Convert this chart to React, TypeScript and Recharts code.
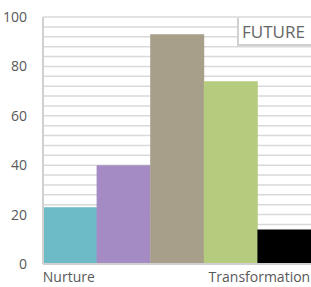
import React from 'react'
import { BarChart, Bar, XAxis, YAxis, CartesianGrid, Cell } from 'recharts'

const stages = ['s1', 's2', 's3', 's4', 's5']
const stageLabels = ['Nurture', '', '', '', 'Transformation']
const values = [23, 40, 93, 74, 14]
const colors = ['#6dbbc7', '#a48bc3', '#a89f8a', '#b5cc7e', '#000000']
const yTicks = Array.from({ length: 26 }, (_, i) => i * 4)
const yLabelTicks = [0, 20, 40, 60, 80, 100]

const data = stages.map((s, i) => ({ stage: s, value: values[i] }))

const font = '"Open Sans", "Noto Sans", sans-serif'

const YTick = ({ x, y, payload }: any) => {
  if (!yLabelTicks.includes(payload.value)) return null
  return (
    <text x={x - 8} y={y + 5} textAnchor="end" fill="#595959" fontSize={14} fontFamily={font}>
      {payload.value}
    </text>
  )
}

const XTick = ({ x, y, payload, index }: any) => {
  const label = stageLabels[index]
  if (!label) return null
  const first = index === 0
  return (
    <text x={first ? x - 27 : x + 26} y={y + 10} textAnchor={first ? 'start' : 'end'} fill="#595959" fontSize={14} fontFamily={font}>
      {label}
    </text>
  )
}

export default function App() {
  return (
    <div style={{ position: 'absolute', left: 0, top: 0, width: 311, height: 287, background: '#fff' }}>
      <BarChart width={311} height={287} data={data} barCategoryGap={0} margin={{ top: 17, right: 0, bottom: 0, left: 0 }}>
        <CartesianGrid vertical={false} stroke="#d9d9d9" strokeWidth={1.5} />
        <XAxis dataKey="stage" height={23} axisLine={{ stroke: '#d0d0d0', strokeWidth: 2 }} tickLine={false} tick={<XTick />} interval={0} />
        <YAxis domain={[0, 100]} ticks={yTicks} interval={0} width={43} axisLine={{ stroke: '#d0d0d0', strokeWidth: 2 }} tickLine={false} tick={<YTick />} />
        <Bar dataKey="value" isAnimationActive={false}>
          {data.map((d, i) => (
            <Cell key={d.stage} fill={colors[i]} />
          ))}
        </Bar>
      </BarChart>
      <div style={{ position: 'absolute', left: 237, top: 18, width: 74, height: 28, background: '#fff', borderLeft: '2px solid #d0d0d0', borderBottom: '2px solid #d0d0d0', boxSizing: 'border-box', color: '#666', fontFamily: font, fontSize: 17, lineHeight: '27px', paddingLeft: 3 }}>
        FUTURE
      </div>
    </div>
  )
}
